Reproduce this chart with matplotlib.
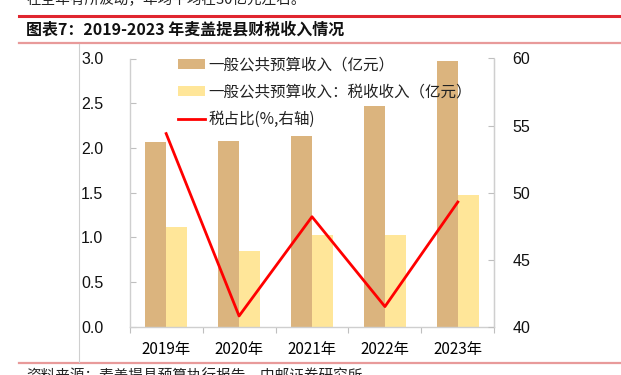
import matplotlib
matplotlib.use("Agg")
import matplotlib.pyplot as plt
from matplotlib.lines import Line2D
from matplotlib.patches import Patch
import numpy as np

plt.rcParams['font.family'] = ['Noto Sans CJK SC', 'DejaVu Sans']

years = ["2019年", "2020年", "2021年", "2022年", "2023年"]
general_budget = [2.07, 2.08, 2.13, 2.47, 2.97]
tax_revenue = [1.12, 0.85, 1.03, 1.03, 1.47]
tax_share = [54.4, 40.8, 48.2, 41.5, 49.3]

series_labels = ["一般公共预算收入（亿元）", "一般公共预算收入：税收收入（亿元）", "税占比(%,右轴)"]
left_ticks = [0.0, 0.5, 1.0, 1.5, 2.0, 2.5, 3.0]
right_ticks = [40, 45, 50, 55, 60]

W, H = 621, 375
fig = plt.figure(figsize=(W / 100, H / 100), dpi=100)

def fx(px):
    return px / W

def fy(py):
    return 1 - py / H

# Header / footer decorations
fig.add_artist(Line2D([fx(19), fx(620)], [fy(16), fy(16)], color="#E0262F", lw=2.2))
fig.add_artist(Line2D([fx(19), fx(620)], [fy(42.7), fy(42.7)], color="#E89A9A", lw=1.6))
fig.add_artist(Line2D([fx(19), fx(620)], [fy(363), fy(363)], color="#E89A9A", lw=1.6))
fig.add_artist(Line2D([fx(78.5), fx(78.5)], [fy(43.5), fy(362)], color="#CFCFCF", lw=0.8))

fig.text(fx(26), fy(30), "图表7：2019-2023 年麦盖提县财税收入情况", fontsize=11.5,
         fontweight="bold", va="center", ha="left", color="#111111")
fig.text(fx(26), fy(4), "在全年有所波动，年均平均在30亿元左右。", fontsize=10.5,
         va="baseline", ha="left", color="#222222")
fig.text(fx(26), fy(368.5), "资料来源：麦盖提县预算执行报告，中邮证券研究所", fontsize=10.5,
         va="top", ha="left", color="#222222")

ax = fig.add_axes([fx(129.7), fy(326.7), fx(494.3 - 129.7), (326.7 - 58.5) / H])
x = np.arange(len(years))
bw = 0.288
brown = "#DBB47E"
yellow = "#FFE699"
ax.bar(x - bw / 2, general_budget, width=bw, color=brown, zorder=2)
ax.bar(x + bw / 2, tax_revenue, width=bw, color=yellow, zorder=2)
ax.set_xlim(-0.5, len(years) - 0.5)
ax.set_ylim(0, 3.0)
ax.set_yticks(left_ticks)
ax.set_yticklabels([f"{v:.1f}" for v in left_ticks], family="Liberation Sans", fontsize=11.5)

ax.set_xticks(np.arange(-0.5, len(years), 1.0))
ax.set_xticklabels([])
ax.set_xticks(x, minor=True)
ax.set_xticklabels(years, minor=True, fontsize=11)
ax.tick_params(axis="x", which="major", direction="out", length=4, color="#BFBFBF")
ax.tick_params(axis="x", which="minor", length=0, pad=10)
ax.tick_params(axis="y", direction="in", length=4, color="#BFBFBF", pad=19, labelcolor="#111111")

for s in ["top"]:
    ax.spines[s].set_visible(False)
for s in ["left", "bottom", "right"]:
    ax.spines[s].set_color("#CFCFCF")
    ax.spines[s].set_linewidth(1.0)

ax2 = ax.twinx()
ax2.plot(x, tax_share, color="#FF0000", lw=2.0, zorder=3)
ax2.set_ylim(40, 60)
ax2.set_yticks(right_ticks)
ax2.set_yticklabels([str(v) for v in right_ticks], family="Liberation Sans", fontsize=11.5)
ax2.tick_params(axis="y", direction="in", length=4, color="#BFBFBF", pad=13, labelcolor="#111111")
for s in ["top", "left", "bottom"]:
    ax2.spines[s].set_visible(False)
ax2.spines["right"].set_color("#CFCFCF")

handles = [Patch(facecolor=brown, edgecolor="none"),
           Patch(facecolor=yellow, edgecolor="none"),
           Line2D([0], [0], color="#FF0000", lw=2.0)]
leg = fig.legend(handles, series_labels, loc="upper left",
                 bbox_to_anchor=(fx(178), fy(56.5)), frameon=False, fontsize=11.2,
                 handlelength=1.75, handleheight=0.6, handletextpad=0.2,
                 labelspacing=0.65, borderpad=0, borderaxespad=0)
for t in leg.get_texts():
    t.set_color("#222222")

fig.savefig("out.png", dpi=100)
